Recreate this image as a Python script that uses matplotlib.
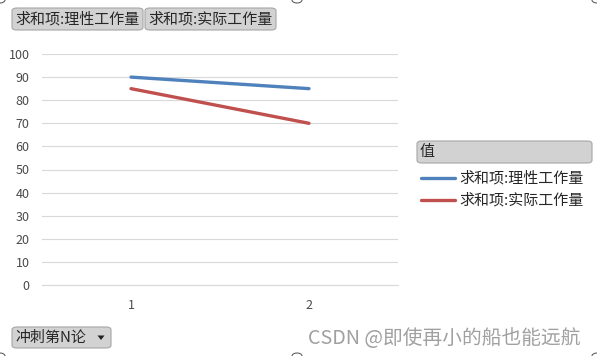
import matplotlib

matplotlib.use("Agg")
import matplotlib.pyplot as plt
from matplotlib.patches import FancyBboxPatch, Circle, Polygon

plt.rcParams["font.family"] = ["Noto Sans CJK SC", "DejaVu Sans"]

rounds = ["1", "2"]
theory_work = [90, 85]
actual_work = [85, 70]
series_names = ["求和项:理性工作量", "求和项:实际工作量"]
y_ticks = list(range(0, 101, 10))

W, H = 597, 356
fig = plt.figure(figsize=(W / 100, H / 100), dpi=100)
ax = fig.add_axes([42 / W, 1 - 285 / H, 356 / W, 231 / H])

x = range(len(rounds))
ax.plot(x, theory_work, color="#4F81BD", lw=2.4, solid_capstyle="round")
ax.plot(x, actual_work, color="#C0504D", lw=2.4, solid_capstyle="round")
ax.set_xlim(-0.5, 1.5)
ax.set_ylim(0, 100)
ax.set_xticks(list(x), labels=rounds)
ax.set_yticks(y_ticks)
ax.grid(axis="y", color="#D9D9D9", lw=0.8)
ax.set_axisbelow(True)
for side in ["top", "right", "left"]:
    ax.spines[side].set_visible(False)
ax.spines["bottom"].set_color("#D9D9D9")
ax.tick_params(length=0, labelsize=9, colors="#4A4A4A")
ax.tick_params(axis="x", pad=10)
ax.tick_params(axis="y", pad=9)


def button(x0, y0, w, h, text, arrow=False):
    # 坐标按像素给出，左上角为原点
    box = FancyBboxPatch(
        (x0 / W, 1 - (y0 + h) / H), w / W, h / H,
        boxstyle="round,pad=0,rounding_size=0.008",
        transform=fig.transFigure, facecolor="#D2D2D2", edgecolor="#A6A6A6", lw=0.8,
    )
    fig.patches.append(box)
    fig.text((x0 + 3) / W, 1 - (y0 + h / 2) / H, text, fontsize=10.8, color="#262626",
             va="center", ha="left")
    if arrow:
        cx, cy = x0 + w - 10, y0 + h / 2
        tri = Polygon([((cx - 3.5) / W, 1 - (cy - 2) / H), ((cx + 3.5) / W, 1 - (cy - 2) / H),
                       (cx / W, 1 - (cy + 2.5) / H)], closed=True,
                      transform=fig.transFigure, facecolor="#202020")
        fig.patches.append(tri)


button(12, 8, 131, 22, series_names[0])
button(145, 8, 131, 22, series_names[1])
button(417, 141, 175, 22, "值")
button(12, 327, 99, 21, "冲刺第N论", arrow=True)

for i, (name, color) in enumerate(zip(series_names, ["#4F81BD", "#C0504D"])):
    yy = 1 - (178 + 22 * i) / H
    fig.add_artist(plt.Line2D([421 / W, 455 / W], [yy, yy], color=color, lw=2.4,
                              solid_capstyle="round", transform=fig.transFigure))
    fig.text(459 / W, yy, name, fontsize=10.8, color="#262626", va="center", ha="left")

fig.text(581 / W, 1 - 338 / H, "CSDN @即使再小的船也能远航", fontsize=14.2, color="#A0A0A0",
         va="center", ha="right")

for cx, cy in [(0, 0), (297, 0), (597, 0), (0, 356), (297, 356), (597, 356)]:
    fig.patches.append(Circle((cx / W, 1 - cy / H), 5 / W, transform=fig.transFigure,
                              facecolor="white", edgecolor="#606060", lw=0.8))

fig.savefig("out.png", dpi=100)
